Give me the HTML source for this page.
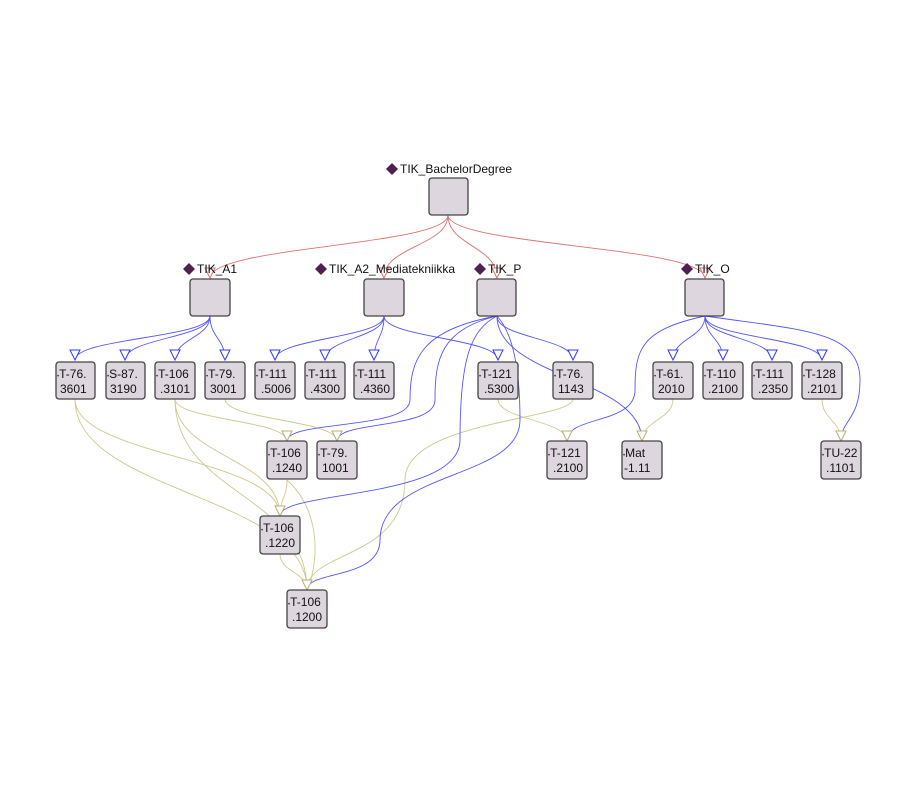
<!DOCTYPE html>
<html><head><meta charset="utf-8"><style>
html,body{margin:0;padding:0;background:#fff;}
svg{display:block;}
text{font-family:"Liberation Sans",sans-serif;font-size:12px;fill:#111;}
.bx{fill:#ded6de;stroke:#444;stroke-width:1.3;}
.r{fill:none;stroke:#e07070;stroke-width:0.9;}
.b{fill:none;stroke:#5555ff;stroke-width:0.9;}
.o{fill:none;stroke:#cfc890;stroke-width:0.9;}
.ra{fill:#fff;stroke:#e07070;stroke-width:1;}
.ba{fill:#fff;stroke:#3333ff;stroke-width:1;}
.oa{fill:#fff;stroke:#b8b070;stroke-width:1;}
.d{fill:#4f1f4f;}
</style></head><body>
<svg width="914" height="788" viewBox="0 0 914 788" xmlns="http://www.w3.org/2000/svg">
<!-- olive edges -->
<path class="o" d="M75 399 C75 457 280 457 280 516"/>
<path class="o" d="M75 399 C75 494 307 494 307 590"/>
<path class="o" d="M175 399 C175 420 287 420 287 441"/>
<path class="o" d="M175 399 C175 457 280 457 280 516"/>
<path class="o" d="M175 399 C175 494 307 494 307 590"/>
<path class="o" d="M225 399 C225 420 337 420 337 441"/>
<path class="o" d="M287 480 C287 498 280 498 280 516"/>
<path class="o" d="M287 480 C320 510 320 560 307 590"/>
<path class="o" d="M280 554 C280 572 307 572 307 590"/>
<path class="o" d="M498 399 C498 420 567 420 567 441"/>
<path class="o" d="M573 399 C573 420 405 420 405 480 C405 560 307 550 307 590"/>
<path class="o" d="M673 399 C673 420 642 420 642 441"/>
<path class="o" d="M822 399 C822 420 841 420 841 441"/>
<!-- red edges -->
<path class="r" d="M448 215 C448 246 210 246 210 278"/>
<path class="r" d="M448 215 C448 246 384 246 384 278"/>
<path class="r" d="M448 215 C448 246 497 246 497 278"/>
<path class="r" d="M448 215 C448 246 705 246 705 278"/>
<!-- blue edges -->
<path class="b" d="M210 316 C210 338 75 338 75 360"/>
<path class="b" d="M210 316 C210 338 125 338 125 360"/>
<path class="b" d="M210 316 C210 338 175 338 175 360"/>
<path class="b" d="M210 316 C210 338 225 338 225 360"/>
<path class="b" d="M384 316 C384 338 275 338 275 360"/>
<path class="b" d="M384 316 C384 338 325 338 325 360"/>
<path class="b" d="M384 316 C384 338 374 338 374 360"/>
<path class="b" d="M384 316 C384 338 498 338 498 360"/>
<path class="b" d="M497 316 C497 338 573 338 573 360"/>
<path class="b" d="M497 316 C497 378 642 378 642 441"/>
<path class="b" d="M497 316 C420 330 410 360 410 400 C410 430 287 420 287 441"/>
<path class="b" d="M497 316 C440 330 435 360 435 400 C435 430 337 420 337 441"/>
<path class="b" d="M497 316 C470 330 460 360 460 440 C460 500 280 490 280 516"/>
<path class="b" d="M497 316 C510 330 520 360 520 420 C520 480 380 470 380 540 C380 580 307 570 307 590"/>
<path class="b" d="M705 316 C705 338 673 338 673 360"/>
<path class="b" d="M705 316 C705 338 723 338 723 360"/>
<path class="b" d="M705 316 C705 338 772 338 772 360"/>
<path class="b" d="M705 316 C705 338 822 338 822 360"/>
<path class="b" d="M705 316 C640 330 635 350 635 390 C635 425 567 415 567 441"/>
<path class="b" d="M705 316 C800 330 860 330 860 380 C860 420 841 420 841 441"/>
<!-- arrowheads -->
<g class="ra">
<polygon points="205,268 215,268 210,278"/><polygon points="379,268 389,268 384,278"/>
<polygon points="492,268 502,268 497,278"/><polygon points="700,268 710,268 705,278"/>
</g>
<g class="ba">
<polygon points="70,350 80,350 75,360"/><polygon points="120,350 130,350 125,360"/>
<polygon points="170,350 180,350 175,360"/><polygon points="220,350 230,350 225,360"/>
<polygon points="270,350 280,350 275,360"/><polygon points="320,350 330,350 325,360"/>
<polygon points="369,350 379,350 374,360"/><polygon points="493,350 503,350 498,360"/>
<polygon points="568,350 578,350 573,360"/><polygon points="668,350 678,350 673,360"/>
<polygon points="718,350 728,350 723,360"/><polygon points="767,350 777,350 772,360"/>
<polygon points="817,350 827,350 822,360"/>
</g>
<g class="oa">
<polygon points="282,431 292,431 287,441"/><polygon points="332,431 342,431 337,441"/>
<polygon points="562,431 572,431 567,441"/><polygon points="637,431 647,431 642,441"/>
<polygon points="836,431 846,431 841,441"/><polygon points="275,506 285,506 280,516"/>
<polygon points="302,580 312,580 307,590"/>
</g>
<!-- big boxes -->
<rect class="bx" x="429" y="178" width="39" height="37" rx="3"/>
<rect class="bx" x="190" y="279" width="40" height="37" rx="3"/>
<rect class="bx" x="364" y="279" width="40" height="37" rx="3"/>
<rect class="bx" x="477" y="279" width="39" height="37" rx="3"/>
<rect class="bx" x="685" y="279" width="39" height="37" rx="3"/>
<!-- labels -->
<polygon class="d" points="392,163 398,169 392,175 386,169"/><text x="400" y="173">TIK_BachelorDegree</text>
<polygon class="d" points="189,263 195,269 189,275 183,269"/><text x="197" y="273">TIK_A1</text>
<polygon class="d" points="321,263 327,269 321,275 315,269"/><text x="329" y="273">TIK_A2_Mediatekniikka</text>
<polygon class="d" points="480,263 486,269 480,275 474,269"/><text x="488" y="273">TIK_P</text>
<polygon class="d" points="687,263 693,269 687,275 681,269"/><text x="695" y="273">TIK_O</text>
<!-- small boxes -->
<g>
<rect class="bx" x="56" y="362" width="39" height="37" rx="3"/><text x="57" y="378"><tspan class="d" font-size="6">•</tspan>T-76.</text><text x="60" y="393">3601</text>
<rect class="bx" x="106" y="362" width="39" height="37" rx="3"/><text x="107" y="378"><tspan class="d" font-size="6">•</tspan>S-87.</text><text x="110" y="393">3190</text>
<rect class="bx" x="155" y="362" width="40" height="37" rx="3"/><text x="156" y="378"><tspan class="d" font-size="6">•</tspan>T-106</text><text x="160" y="393">.3101</text>
<rect class="bx" x="205" y="362" width="40" height="37" rx="3"/><text x="206" y="378"><tspan class="d" font-size="6">•</tspan>T-79.</text><text x="210" y="393">3001</text>
<rect class="bx" x="255" y="362" width="40" height="37" rx="3"/><text x="256" y="378"><tspan class="d" font-size="6">•</tspan>T-111</text><text x="261" y="393">.5006</text>
<rect class="bx" x="305" y="362" width="40" height="37" rx="3"/><text x="306" y="378"><tspan class="d" font-size="6">•</tspan>T-111</text><text x="310" y="393">.4300</text>
<rect class="bx" x="354" y="362" width="40" height="37" rx="3"/><text x="355" y="378"><tspan class="d" font-size="6">•</tspan>T-111</text><text x="360" y="393">.4360</text>
<rect class="bx" x="478" y="362" width="40" height="37" rx="3"/><text x="479" y="378"><tspan class="d" font-size="6">•</tspan>T-121</text><text x="484" y="393">.5300</text>
<rect class="bx" x="553" y="362" width="40" height="37" rx="3"/><text x="554" y="378"><tspan class="d" font-size="6">•</tspan>T-76.</text><text x="558" y="393">1143</text>
<rect class="bx" x="653" y="362" width="40" height="37" rx="3"/><text x="654" y="378"><tspan class="d" font-size="6">•</tspan>T-61.</text><text x="658" y="393">2010</text>
<rect class="bx" x="703" y="362" width="40" height="37" rx="3"/><text x="704" y="378"><tspan class="d" font-size="6">•</tspan>T-110</text><text x="708" y="393">.2100</text>
<rect class="bx" x="752" y="362" width="40" height="37" rx="3"/><text x="753" y="378"><tspan class="d" font-size="6">•</tspan>T-111</text><text x="758" y="393">.2350</text>
<rect class="bx" x="802" y="362" width="40" height="37" rx="3"/><text x="803" y="378"><tspan class="d" font-size="6">•</tspan>T-128</text><text x="807" y="393">.2101</text>
<rect class="bx" x="267" y="441" width="40" height="38" rx="3"/><text x="268" y="457"><tspan class="d" font-size="6">•</tspan>T-106</text><text x="272" y="472">.1240</text>
<rect class="bx" x="317" y="441" width="40" height="38" rx="3"/><text x="318" y="457"><tspan class="d" font-size="6">•</tspan>T-79.</text><text x="322" y="472">1001</text>
<rect class="bx" x="547" y="441" width="40" height="38" rx="3"/><text x="548" y="457"><tspan class="d" font-size="6">•</tspan>T-121</text><text x="553" y="472">.2100</text>
<rect class="bx" x="622" y="441" width="40" height="38" rx="3"/><text x="623" y="457"><tspan class="d" font-size="6">•</tspan>Mat</text><text x="624" y="472">-1.11</text>
<rect class="bx" x="821" y="441" width="40" height="38" rx="3"/><text x="822" y="457"><tspan class="d" font-size="6">•</tspan>TU-22</text><text x="826" y="472">.1101</text>
<rect class="bx" x="260" y="516" width="40" height="38" rx="3"/><text x="261" y="532"><tspan class="d" font-size="6">•</tspan>T-106</text><text x="265" y="547">.1220</text>
<rect class="bx" x="287" y="590" width="40" height="38" rx="3"/><text x="288" y="606"><tspan class="d" font-size="6">•</tspan>T-106</text><text x="292" y="621">.1200</text>
</g>
</svg>
</body></html>
